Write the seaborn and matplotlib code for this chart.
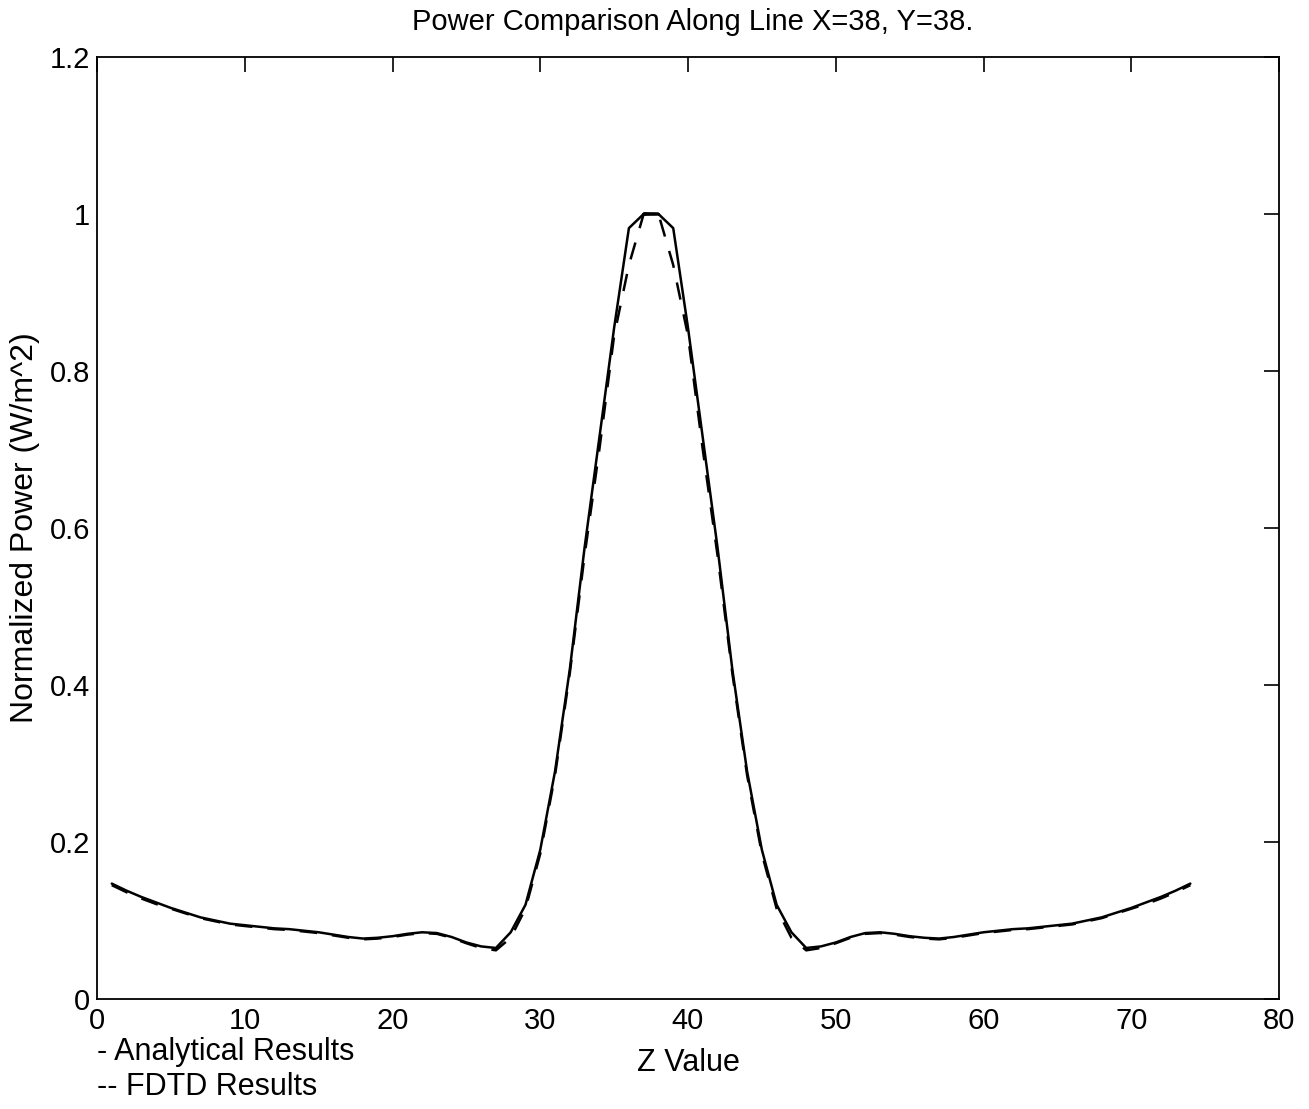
import numpy as np
import pandas as pd
import matplotlib
matplotlib.use("Agg")
import matplotlib.pyplot as plt
import seaborn as sns

# Z positions
z_left = list(range(1, 39))
# Analytical result, left half (z = 1..38), mirrored about z = 37.5
analytical_left = [0.147, 0.138, 0.130, 0.123, 0.116, 0.110, 0.104, 0.100, 0.096, 0.094,
                   0.092, 0.090, 0.089, 0.087, 0.085, 0.082, 0.079, 0.077, 0.078, 0.080,
                   0.083, 0.085, 0.084, 0.079, 0.072, 0.067, 0.065, 0.085, 0.120, 0.190,
                   0.290, 0.420, 0.575, 0.715, 0.855, 0.982, 1.000, 1.000]
# FDTD result, left half (z = 1..38), mirrored about z = 37.5
fdtd_left = [0.145, 0.136, 0.128, 0.121, 0.115, 0.109, 0.103, 0.099, 0.095, 0.093,
             0.091, 0.089, 0.088, 0.086, 0.084, 0.081, 0.078, 0.076, 0.077, 0.079,
             0.082, 0.084, 0.083, 0.078, 0.071, 0.065, 0.062, 0.078, 0.115, 0.185,
             0.285, 0.415, 0.565, 0.700, 0.845, 0.935, 1.000, 1.000]

z_values = z_left + [75 - z for z in reversed(z_left)]
analytical = analytical_left + list(reversed(analytical_left))
fdtd = fdtd_left + list(reversed(fdtd_left))

title_text = "Power Comparison Along Line X=38, Y=38."
xlabel_text = "Z Value"
ylabel_text = "Normalized Power (W/m^2)"
legend_lines = ["- Analytical Results", "-- FDTD Results"]
x_ticks = [0, 10, 20, 30, 40, 50, 60, 70, 80]
y_ticks = [0, 0.2, 0.4, 0.6, 0.8, 1.0, 1.2]
y_tick_labels = ["0", "0.2", "0.4", "0.6", "0.8", "1", "1.2"]

df = pd.DataFrame({
    "z": z_values * 2,
    "power": analytical + fdtd,
    "series": ["Analytical"] * len(z_values) + ["FDTD"] * len(z_values),
})

sns.set_style("white")
plt.rcParams["font.family"] = ["Liberation Sans", "DejaVu Sans"]
plt.rcParams["text.color"] = "black"

fig = plt.figure(figsize=(13.09, 11.09), dpi=100)
ax = fig.add_axes([97 / 1309, 1 - 999 / 1109, (1279 - 97) / 1309, (999 - 57) / 1109])

sns.lineplot(data=df, x="z", y="power", style="series",
             dashes={"Analytical": "", "FDTD": (7, 6)},
             color="black", linewidth=1.8, legend=False, ax=ax,
             estimator=None, sort=False)

ax.set_xlim(0, 80)
ax.set_ylim(0, 1.2)
ax.set_xticks(x_ticks)
ax.set_xticklabels([str(t) for t in x_ticks])
ax.set_yticks(y_ticks)
ax.set_yticklabels(y_tick_labels)
ax.tick_params(direction="in", length=11, width=1.2, top=True, right=True,
               labelsize=21, colors="black", labelcolor="black", pad=5)
ax.tick_params(axis="x", pad=6)
for s in ax.spines.values():
    s.set_color("black")
    s.set_linewidth(1.3)
    s.set_visible(True)

ax.set_xlabel("")
ax.set_ylabel("")
fig.text(688 / 1309, 1 - 1063 / 1109, xlabel_text, ha="center", va="center",
         fontsize=22, color="black")
fig.text(25 / 1309, 1 - 528 / 1109, ylabel_text, ha="center", va="center",
         rotation=90, fontsize=23, color="black")
fig.text(693 / 1309, 1 - 22 / 1109, title_text, ha="center", va="center",
         fontsize=21, color="black")
fig.text(97 / 1309, 1 - 1052 / 1109, legend_lines[0], ha="left", va="center",
         fontsize=22, color="black")
fig.text(97 / 1309, 1 - 1087 / 1109, legend_lines[1], ha="left", va="center",
         fontsize=22, color="black")

fig.savefig("out.png", dpi=100, facecolor="white")
